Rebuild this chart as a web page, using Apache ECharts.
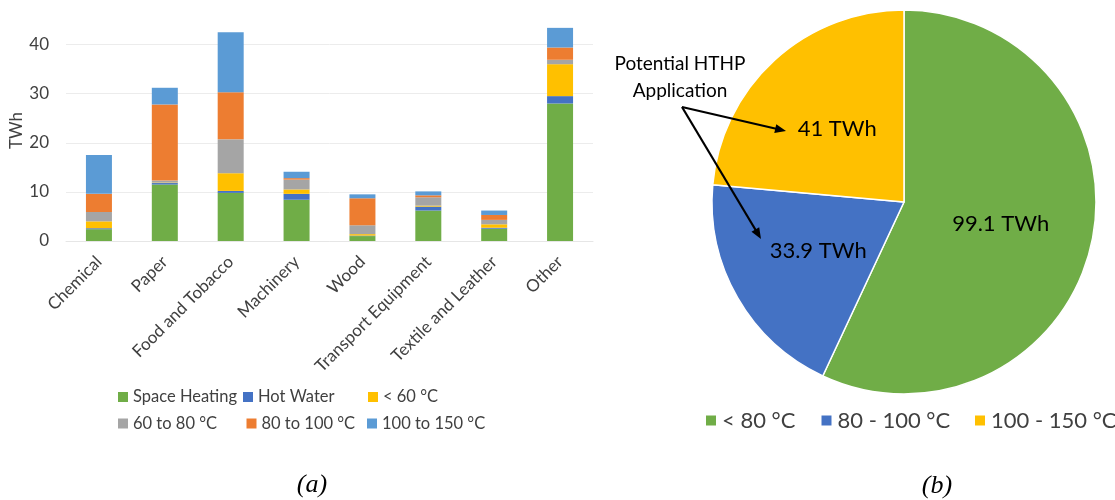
<!DOCTYPE html>
<html>
<head>
<meta charset="utf-8">
<script src="https://cdn.jsdelivr.net/npm/echarts@6/dist/echarts.min.js"></script>
<style>
  html, body { margin: 0; padding: 0; background: #fff; }
  #chart { width: 1115px; height: 500px; }
</style>
</head>
<body>
<div id="chart"></div>
<script>
// (a) industrial heat demand by sector and temperature band, TWh
const sectors = ['Chemical', 'Paper', 'Food and Tobacco', 'Machinery', 'Wood', 'Transport Equipment', 'Textile and Leather', 'Other'];
const spaceHeating = [2.4, 11.5, 9.8, 8.4, 1.0, 6.2, 2.5, 28.0];
const hotWater     = [0.2, 0.3, 0.4, 1.2, 0.1, 0.8, 0.2, 1.5];
const below60      = [1.4, 0.1, 3.6, 0.9, 0.3, 0.2, 0.7, 6.5];
const from60to80   = [1.9, 0.4, 6.9, 2.0, 1.8, 1.7, 0.9, 0.9];
const from80to100  = [3.7, 15.5, 9.6, 0.3, 5.5, 0.4, 1.0, 2.5];
const from100to150 = [7.9, 3.4, 12.2, 1.3, 0.8, 0.8, 0.9, 4.0];
const barSeriesNames = ['Space Heating', 'Hot Water', '< 60 °C', '60 to 80 °C', '80 to 100 °C', '100 to 150 °C'];

// value axis ticks (TWh)
const yMin = 0, yMax = 45, yStep = 10;

// (b) totals by temperature band, TWh
const pieNames = ['< 80 °C', '80 - 100 °C', '100 - 150 °C'];
const pieValues = [99.1, 33.9, 41];

const FONT = 'Lato';
const C = {
  green: '#70AD47', blue: '#4472C4', yellow: '#FFC000',
  gray: '#A5A5A5', orange: '#ED7D31', lightBlue: '#5B9BD5'
};
const barColors = [C.green, C.blue, C.yellow, C.gray, C.orange, C.lightBlue];
const barData = [spaceHeating, hotWater, below60, from60to80, from80to100, from100to150];

const chart = echarts.init(document.getElementById('chart'), null, { renderer: 'canvas' });

// one legend per entry, so each sits in its own column slot
function legendItem(name, left, centerY, size, fontSize) {
  const lh = Math.round(fontSize * 1.2);
  return {
    data: [name], left: left, top: centerY - lh / 2, padding: 0,
    icon: 'rect', itemWidth: size, itemHeight: size, itemGap: 0,
    selectedMode: false,
    textStyle: { fontFamily: FONT, fontSize: fontSize, color: '#404040', lineHeight: lh }
  };
}

// callout arrow: shaft plus filled head, drawn above the pie
function arrow(x1, y1, x2, y2) {
  const dx = x2 - x1, dy = y2 - y1, L = Math.hypot(dx, dy);
  const ux = dx / L, uy = dy / L, hl = 11, hw = 4.5;
  const bx = x2 - ux * hl, by = y2 - uy * hl;
  return [
    { type: 'line', z: 100, shape: { x1: x1, y1: y1, x2: bx + ux * 2, y2: by + uy * 2 }, style: { stroke: '#000', lineWidth: 2.2 } },
    { type: 'polygon', z: 100, shape: { points: [[x2, y2], [bx - uy * hw, by + ux * hw], [bx + uy * hw, by - ux * hw]] }, style: { fill: '#000' } }
  ];
}

const legends = [
  legendItem(barSeriesNames[0], 118, 397, 10, 16.5),
  legendItem(barSeriesNames[1], 243, 397, 10, 16.5),
  legendItem(barSeriesNames[2], 368, 397, 10, 16.5),
  legendItem(barSeriesNames[3], 118, 423.5, 10, 16.5),
  legendItem(barSeriesNames[4], 246.5, 423.5, 10, 16.5),
  legendItem(barSeriesNames[5], 367, 423.5, 10, 16.5),
  legendItem(pieNames[0], 704, 420.5, 12, 22),
  legendItem(pieNames[1], 819.5, 420.5, 12, 22),
  legendItem(pieNames[2], 973, 420.5, 12, 22)
];

const option = {
  backgroundColor: '#fff',
  animation: false,
  legend: legends,
  grid: { left: 66, right: 522, top: 20, bottom: 259, containLabel: false },
  xAxis: {
    type: 'category',
    data: sectors,
    axisLine: { show: true, lineStyle: { color: '#e6e6e6', width: 1 } },
    axisTick: { show: false },
    axisLabel: {
      interval: 0, rotate: 45, margin: 18,
      fontFamily: FONT, fontSize: 17, color: '#404040'
    }
  },
  yAxis: {
    type: 'value',
    min: yMin, max: yMax, interval: yStep,
    name: 'TWh', nameLocation: 'middle', nameGap: 38, nameRotate: 90,
    nameTextStyle: { fontFamily: FONT, fontSize: 17, color: '#404040' },
    axisLine: { show: false },
    axisTick: { show: false },
    axisLabel: { showMaxLabel: false, margin: 17, fontFamily: FONT, fontSize: 17, color: '#404040' },
    splitLine: { show: true, showMaxLine: false, lineStyle: { color: '#ececec', width: 1 } }
  },
  series: barData.map((vals, i) => ({
    name: barSeriesNames[i],
    type: 'bar',
    stack: 'heat',
    barWidth: 26,
    data: vals,
    itemStyle: { color: barColors[i] },
    emphasis: { disabled: true }
  })).concat([{
    name: 'bands',
    type: 'pie',
    center: [904, 202],
    radius: 192,
    startAngle: 90,
    clockwise: true,
    data: pieNames.map((n, i) => ({ name: n, value: pieValues[i] })),
    color: [C.green, C.blue, C.yellow],
    itemStyle: { borderColor: '#fff', borderWidth: 1.5 },
    label: {
      show: true, position: 'inside',
      formatter: '{c} TWh',
      fontFamily: FONT, fontSize: 22, color: '#000'
    },
    labelLine: { show: false },
    emphasis: { disabled: true }
  }]),
  graphic: [
    {
      type: 'text', x: 680, y: 77, z: 100,
      style: {
        text: 'Potential HTHP\nApplication', fontFamily: FONT, fontSize: 19,
        lineHeight: 27, fill: '#000', align: 'center', verticalAlign: 'middle'
      }
    },
    ...arrow(682, 107, 786, 131),
    ...arrow(682, 107, 761, 239),
    {
      type: 'text', x: 312, y: 485, z: 100,
      style: { text: '(a)', fontFamily: 'Liberation Serif', fontStyle: 'italic', fontSize: 26, fill: '#000', align: 'center', verticalAlign: 'middle' }
    },
    {
      type: 'text', x: 937, y: 486, z: 100,
      style: { text: '(b)', fontFamily: 'Liberation Serif', fontStyle: 'italic', fontSize: 26, fill: '#000', align: 'center', verticalAlign: 'middle' }
    }
  ]
};

chart.setOption(option);
</script>
</body>
</html>
